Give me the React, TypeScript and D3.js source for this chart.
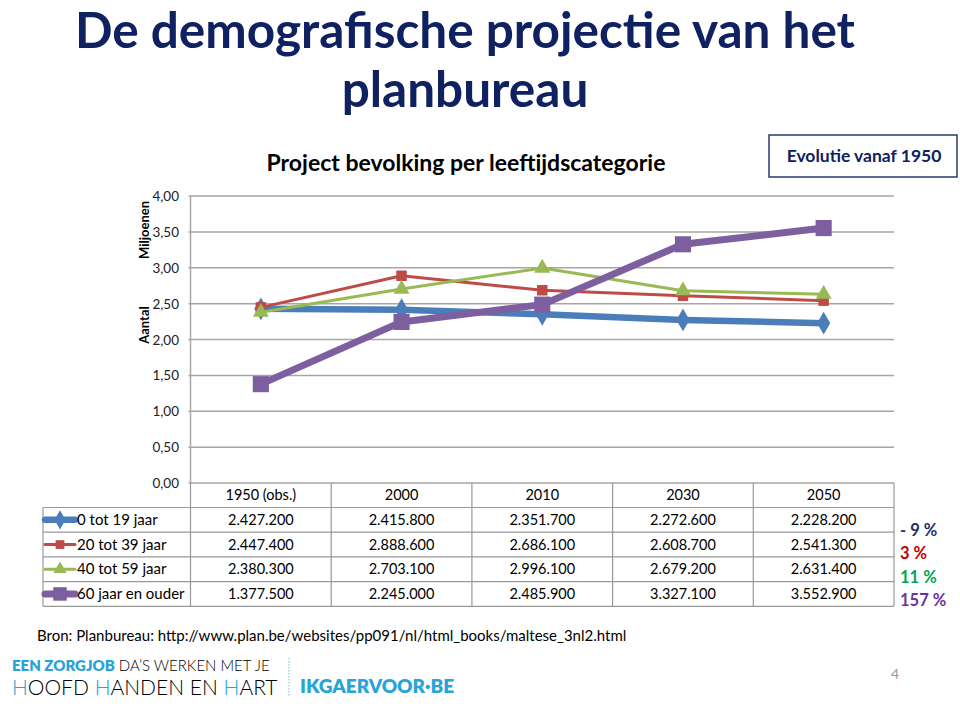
import React from "react";
import * as d3 from "d3";

const years = ["1950 (obs.)", "2000", "2010", "2030", "2050"];
const seriesNames = ["0 tot 19 jaar", "20 tot 39 jaar", "40 tot 59 jaar", "60 jaar en ouder"];
const s0 = [2427200, 2415800, 2351700, 2272600, 2228200];
const s1 = [2447400, 2888600, 2686100, 2608700, 2541300];
const s2 = [2380300, 2703100, 2996100, 2679200, 2631400];
const s3 = [1377500, 2245000, 2485900, 3327100, 3552900];
const yTicks = [0, 0.5, 1, 1.5, 2, 2.5, 3, 3.5, 4];
const evolution = ["- 9 %", "3 %", "11 %", "157 %"];

const colors = ["#4a7ebb", "#be4b48", "#98b954", "#7d5fa0"];
const pctColors = ["#1f2f6b", "#c00000", "#00a550", "#7030a0"];
const widths = [6.5, 3, 3, 7];
const shapes = [d3.symbolDiamond, d3.symbolSquare, d3.symbolTriangle, d3.symbolSquare];
const sizes = [150, 110, 110, 260];
const FONT = "Lato, 'Open Sans', sans-serif";
const NAVY = "#0f2160";

export default function App() {
  const data = [s0, s1, s2, s3];
  const left = 190.5, right = 894;
  const x = d3.scaleBand<string>().domain(years).range([left, right]);
  const y = d3.scaleLinear().domain([0, 4]).range([483, 196]);
  const line = d3.line<number>()
    .x((_, i) => (x(years[i]) as number) + x.bandwidth() / 2)
    .y((v) => y(v / 1e6));
  const fmt = (v: number) => d3.format(",")(v).replace(/,/g, ".");
  const rowTop = 507.5, rowH = 24.7, legendLeft = 43;
  const fmtTick = (v: number) => d3.format(".2f")(v).replace(".", ",");

  return (
    <svg width={960} height={707} style={{ position: "absolute", left: 0, top: 0, background: "#fff" }} fontFamily={FONT}>
      <rect width={960} height={707} fill="#fff" />
      {/* Title */}
      <text x={465} y={48} textAnchor="middle" fontSize={49.5} fontWeight={700} fill={NAVY}>De demografische projectie van het</text>
      <text x={465} y={107} textAnchor="middle" fontSize={49.5} fontWeight={700} fill={NAVY}>planbureau</text>
      {/* Evolution box */}
      <rect x={769} y={135} width={188} height={42} fill="#fff" stroke="#2a3a6e" strokeWidth={1.5} />
      <text x={864} y={162} textAnchor="middle" fontSize={17.5} fontWeight={700} fill={NAVY}>Evolutie vanaf 1950</text>
      {/* Chart title */}
      <text x={466} y={171} textAnchor="middle" fontSize={23} fontWeight={700} fill="#000">Project bevolking per leeftijdscategorie</text>
      {/* Axis titles */}
      <text transform="translate(149,230) rotate(-90)" textAnchor="middle" fontSize={13} fontWeight={700}>Miljoenen</text>
      <text transform="translate(149,325) rotate(-90)" textAnchor="middle" fontSize={13} fontWeight={700}>Aantal</text>
      {/* Gridlines and ticks */}
      {yTicks.map((t) => (
        <g key={t}>
          <line x1={left - 2} x2={right} y1={y(t)} y2={y(t)} stroke="#a6a6a6" strokeWidth={1.5} />
          <text x={179} y={y(t) + 5} textAnchor="end" fontSize={13.5} fill="#222">{fmtTick(t)}</text>
        </g>
      ))}
      <line x1={left} x2={left} y1={196} y2={483} stroke="#a6a6a6" strokeWidth={1.5} />
      {/* Lines */}
      {data.map((s, si) => (
        <g key={si}>
          <path d={line(s) as string} fill="none" stroke={colors[si]} strokeWidth={widths[si]} strokeLinejoin="round" />
          {s.map((v, i) => (
            <path key={i} d={d3.symbol().type(shapes[si]).size(sizes[si])() as string}
              transform={`translate(${(x(years[i]) as number) + x.bandwidth() / 2},${y(v / 1e6)})`} fill={colors[si]} />
          ))}
        </g>
      ))}
      {/* Data table */}
      <g stroke="#999" strokeWidth={1.2}>
        {years.map((yr) => (
          <line key={yr} x1={x(yr) as number} x2={x(yr) as number} y1={483} y2={rowTop + 4 * rowH} />
        ))}
        <line x1={right} x2={right} y1={483} y2={rowTop + 4 * rowH} />
        <line x1={legendLeft} x2={legendLeft} y1={rowTop} y2={rowTop + 4 * rowH} />
        {[0, 1, 2, 3, 4].map((r) => (
          <line key={r} x1={legendLeft} x2={right} y1={rowTop + r * rowH} y2={rowTop + r * rowH} />
        ))}
      </g>
      {years.map((yr) => (
        <text key={yr} x={(x(yr) as number) + x.bandwidth() / 2} y={500} textAnchor="middle" fontSize={14.5} fill="#000">{yr}</text>
      ))}
      {data.map((s, si) => {
        const cy = rowTop + si * rowH + rowH / 2;
        return (
          <g key={si}>
            <line x1={45} x2={75} y1={cy} y2={cy} stroke={colors[si]} strokeWidth={widths[si]} strokeLinecap="round" />
            <path d={d3.symbol().type(shapes[si]).size(sizes[si] * 0.7)() as string} transform={`translate(60,${cy})`} fill={colors[si]} />
            <text x={77} y={cy + 5} fontSize={15} fill="#000">{seriesNames[si]}</text>
            {s.map((v, i) => (
              <text key={i} x={(x(years[i]) as number) + x.bandwidth() / 2} y={cy + 5} textAnchor="middle" fontSize={14.5} fill="#000">{fmt(v)}</text>
            ))}
            <text x={900} y={535.5 + si * 23.5} fontSize={16.5} fontWeight={700} fill={pctColors[si]}>{evolution[si]}</text>
          </g>
        );
      })}
      {/* Source */}
      <text x={37} y={641} fontSize={15} fill="#000">Bron: Planbureau: http://www.plan.be/websites/pp091/nl/html_books/maltese_3nl2.html</text>
      {/* Footer logo */}
      <text x={12} y={671} fontSize={15} fill="#000" fontWeight={300}>
        <tspan fill="#29a3d8" fontWeight={800}>EEN ZORGJOB</tspan> DA’S WERKEN MET JE
      </text>
      <text x={12} y={695} fontSize={21} fontWeight={300} fill="#000">
        <tspan fill="#29a3d8">H</tspan>OOFD <tspan fill="#29a3d8">H</tspan>ANDEN EN <tspan fill="#29a3d8">H</tspan>ART
      </text>
      <line x1={289} x2={289} y1={658} y2={697} stroke="#8fc7de" strokeWidth={1.2} strokeDasharray="1.5,1.5" />
      <text x={300} y={693} fontSize={19} fontWeight={800} fill="#29a3d8">IKGAERVOOR·BE</text>
      <text x={895} y={679} textAnchor="middle" fontSize={14} fill="#999">4</text>
    </svg>
  );
}
